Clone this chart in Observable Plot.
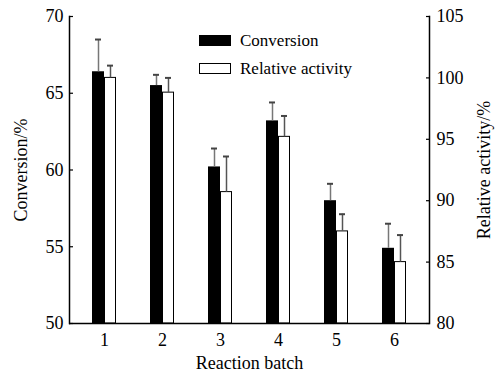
<!DOCTYPE html>
<html>
<head>
<meta charset="utf-8">
<script src="https://cdn.jsdelivr.net/npm/d3@7"></script>
<script src="https://cdn.jsdelivr.net/npm/@observablehq/plot@0.6"></script>
<style>
  html, body { margin: 0; padding: 0; background: #fff; }
  #wrap { position: relative; width: 500px; height: 373px; font-family: "Liberation Serif", "Times New Roman", serif; }
  .legend { position: absolute; left: 199px; font-size: 17px; line-height: 1; }
  .legend .row { display: flex; align-items: center; height: 11px; margin-bottom: 17px; }
  .legend .sw { width: 32px; height: 11px; box-sizing: border-box; margin-right: 9px; }
</style>
</head>
<body>
<div id="wrap"></div>
<script>
const batches = [1, 2, 3, 4, 5, 6];
const conversion = [66.4, 65.5, 60.2, 63.2, 58.0, 54.9];
const conversionErr = [2.1, 0.7, 1.2, 1.2, 1.1, 1.6];
const relActivity = [100.0, 98.8, 90.7, 95.2, 87.5, 85.0];
const relActivityErr = [1.0, 1.2, 2.9, 1.7, 1.4, 2.2];
const leftTicks = [50, 55, 60, 65, 70];
const rightTicks = [80, 85, 90, 95, 100, 105];
const seriesNames = ["Conversion", "Relative activity"];
const seriesColors = ["#000000", "#ffffff"];

// map right-axis (relative activity) values onto the left (conversion) scale
const leftDomain = [50, 70];
const rightDomain = [80, 105];
const toLeft = v => leftDomain[0] + (v - rightDomain[0]) * (leftDomain[1] - leftDomain[0]) / (rightDomain[1] - rightDomain[0]);
const toRight = v => rightDomain[0] + (v - leftDomain[0]) * (rightDomain[1] - rightDomain[0]) / (leftDomain[1] - leftDomain[0]);

const data = batches.map((b, i) => ({
  batch: b,
  conv: conversion[i],
  convTop: conversion[i] + conversionErr[i],
  rel: toLeft(relActivity[i]),
  relTop: toLeft(relActivity[i] + relActivityErr[i])
}));

const plot = Plot.plot({
  width: 500,
  height: 373,
  marginLeft: 69,
  marginRight: 71,
  marginTop: 16,
  marginBottom: 50,
  style: { fontFamily: "Liberation Serif, Times New Roman, serif", fontSize: "18px", color: "#000", background: "#fff" },
  x: { type: "band", domain: batches, paddingInner: 0.589, paddingOuter: 0.3765 },
  y: { domain: leftDomain },
  marks: [
    Plot.barY(data, { x: "batch", y1: leftDomain[0], y2: "conv", fill: seriesColors[0], insetRight: 12 }),
    Plot.barY(data, { x: "batch", y1: leftDomain[0], y2: "rel", fill: seriesColors[1], stroke: "#000", strokeWidth: 1, insetLeft: 12.5, insetRight: 0.5 }),
    Plot.ruleX(data, { x: "batch", y1: "conv", y2: "convTop", dx: -6, stroke: "#777", strokeWidth: 1.5 }),
    Plot.ruleX(data, { x: "batch", y1: "rel", y2: "relTop", dx: 6, stroke: "#555", strokeWidth: 1.5 }),
    Plot.tickY(data, { x: "batch", y: "convTop", insetLeft: 3, insetRight: 15, stroke: "#444", strokeWidth: 2 }),
    Plot.tickY(data, { x: "batch", y: "relTop", insetLeft: 15, insetRight: 3, stroke: "#444", strokeWidth: 2 }),
    Plot.ruleY([leftDomain[0]], { stroke: "#000", strokeWidth: 1.5 }),
    Plot.frame({ anchor: "left", stroke: "#000", strokeWidth: 1.5 }),
    Plot.frame({ anchor: "right", stroke: "#000", strokeWidth: 1.5 }),
    Plot.axisX({ tickSize: 0, tickPadding: 10, label: "Reaction batch", labelAnchor: "center", labelOffset: 45, labelArrow: "none" }),
    // inward tick marks
    Plot.axisY(leftTicks, { anchor: "left", tickSize: 4, dx: 4, tickFormat: () => "", label: null, stroke: "#000", strokeWidth: 1.2 }),
    Plot.axisY(rightTicks.map(toLeft), { anchor: "right", tickSize: 4, dx: -4, tickFormat: () => "", label: null, stroke: "#000", strokeWidth: 1.2 }),
    // labels
    Plot.axisY(leftTicks, { anchor: "left", tickSize: 0, tickPadding: 6, label: "Conversion/%", labelAnchor: "center", labelOffset: 55, labelArrow: "none" }),
    Plot.axisY(rightTicks.map(toLeft), { anchor: "right", tickSize: 0, tickPadding: 7, tickFormat: d => String(Math.round(toRight(d))), label: "Relative activity/%", labelAnchor: "center", labelOffset: 60, labelArrow: "none" })
  ]
});

const wrap = document.getElementById("wrap");
wrap.appendChild(plot);

const legend = document.createElement("div");
legend.className = "legend";
legend.style.top = "35px";
seriesNames.forEach((name, i) => {
  const row = document.createElement("div");
  row.className = "row";
  const sw = document.createElement("div");
  sw.className = "sw";
  sw.style.background = seriesColors[i];
  sw.style.border = "1px solid #000";
  const label = document.createElement("span");
  label.textContent = name;
  row.appendChild(sw);
  row.appendChild(label);
  legend.appendChild(row);
});
wrap.appendChild(legend);
</script>
</body>
</html>
